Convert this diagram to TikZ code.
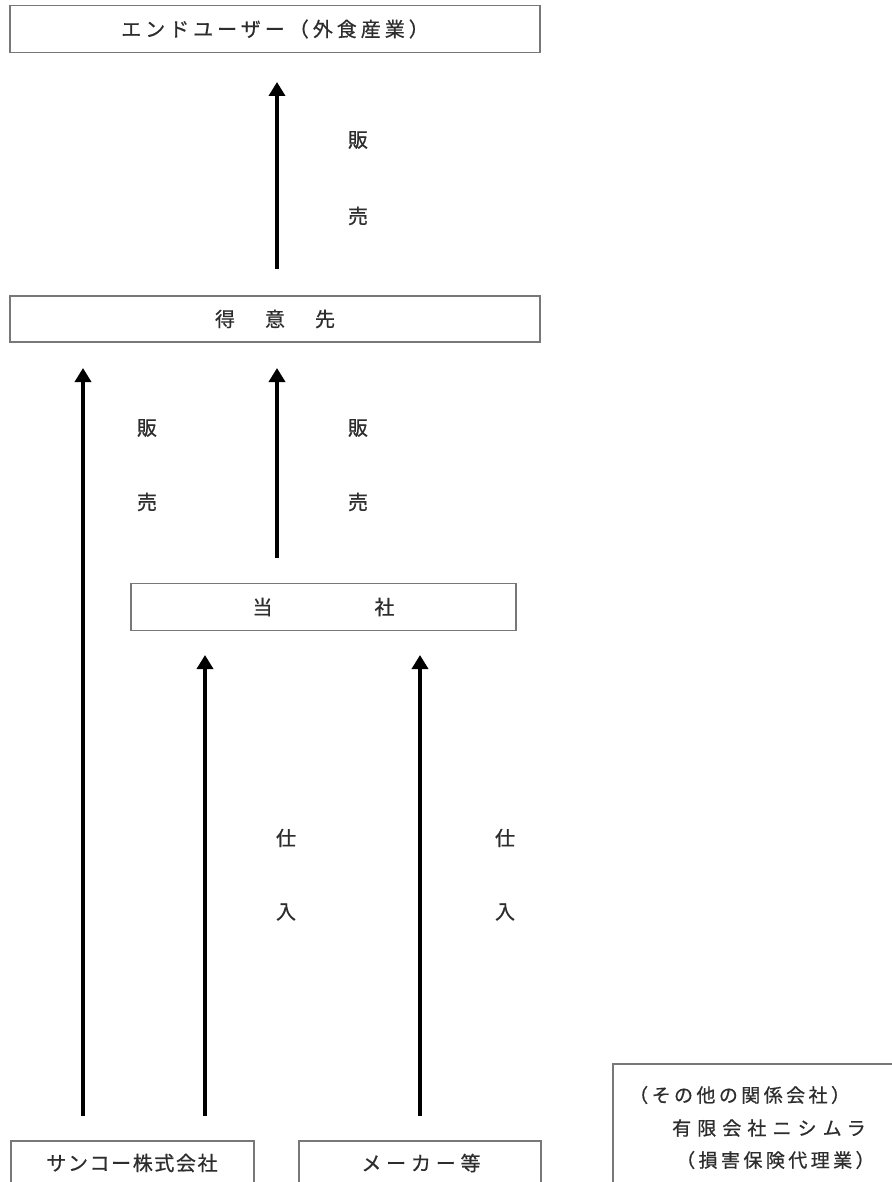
\documentclass[tikz,border=0pt]{standalone}
\usepackage{fontspec}
\newfontfamily\jp{Noto Sans CJK JP}[FakeBold=0.6]
\usetikzlibrary{arrows.meta}
\definecolor{boxgray}{RGB}{120,120,120}
\definecolor{txtgray}{RGB}{45,45,45}
\begin{document}
\begin{tikzpicture}[x=1pt,y=1pt,
  box/.style={draw=boxgray, line width=1.6pt, inner sep=0pt, outer sep=0pt, text=txtgray,
    font=\jp\fontsize{20}{22}\selectfont},
  lbl/.style={inner sep=0pt, text=txtgray, font=\jp\fontsize{20}{22}\selectfont},
  olbl/.style={inner sep=0pt, text=txtgray, anchor=west, font=\jp\fontsize{19}{21}\selectfont},
  arr/.style={line width=4pt, -{Triangle[width=16pt,length=14pt]}}]
\useasboundingbox (0,0) rectangle (891,-1182);
\fill[white] (0,0) rectangle (891,-1182);
% boxes
\node[box, minimum width=530, minimum height=47] (end) at (275,-29)
  {\addfontfeatures{LetterSpace=20}エンドユーザー（外食産業）};
\node[box, minimum width=530, minimum height=46] (cust) at (275,-319)
  {得\hspace{30pt}意\hspace{30pt}先};
\node[box, minimum width=385, minimum height=47] (us) at (323.5,-607)
  {当\hspace{102pt}社};
\node[box, minimum width=243, minimum height=50, anchor=north west] (sanko) at (11,-1141) {};
\node[lbl] (sankot) at (132,-1163) {\addfontfeatures{LetterSpace=8}サンコー株式会社};
\node[box, minimum width=242, minimum height=50, anchor=north west] (maker) at (299,-1141) {};
\node[lbl] (makert) at (421,-1163) {\addfontfeatures{LetterSpace=24}メーカー等};
\node[box, minimum width=290, minimum height=130, anchor=north west] (other) at (613,-1064) {};
\node[olbl] (o1) at (629,-1095) {\addfontfeatures{LetterSpace=18}（その他の関係会社）};
\node[olbl] (o2) at (672,-1128) {\addfontfeatures{LetterSpace=32}有限会社ニシムラ};
\node[olbl] (o3) at (676,-1160) {\addfontfeatures{LetterSpace=18}（損害保険代理業）};
% arrow end points
\coordinate (a1s) at (277,-269); \coordinate (a1e) at (277,-82);
\coordinate (a2s) at (83,-1116);  \coordinate (a2e) at (83,-368);
\coordinate (a3s) at (277,-558); \coordinate (a3e) at (277,-368);
\coordinate (a4s) at (205,-1116); \coordinate (a4e) at (205,-655);
\coordinate (a5s) at (420,-1116); \coordinate (a5e) at (420,-655);
\draw[arr] (a1s) -- (a1e);
\draw[arr] (a2s) -- (a2e);
\draw[arr] (a3s) -- (a3e);
\draw[arr] (a4s) -- (a4e);
\draw[arr] (a5s) -- (a5e);
% labels
\node[lbl] (l1a) at (358,-140) {販};
\node[lbl] (l1b) at (358,-216) {売};
\node[lbl] (l2a) at (147,-428) {販};
\node[lbl] (l2b) at (147,-502) {売};
\node[lbl] (l3a) at (358,-428) {販};
\node[lbl] (l3b) at (358,-502) {売};
\node[lbl] (l4a) at (286,-838) {仕};
\node[lbl] (l4b) at (286,-912) {入};
\node[lbl] (l5a) at (505,-838) {仕};
\node[lbl] (l5b) at (505,-912) {入};
\end{tikzpicture}
\end{document}
